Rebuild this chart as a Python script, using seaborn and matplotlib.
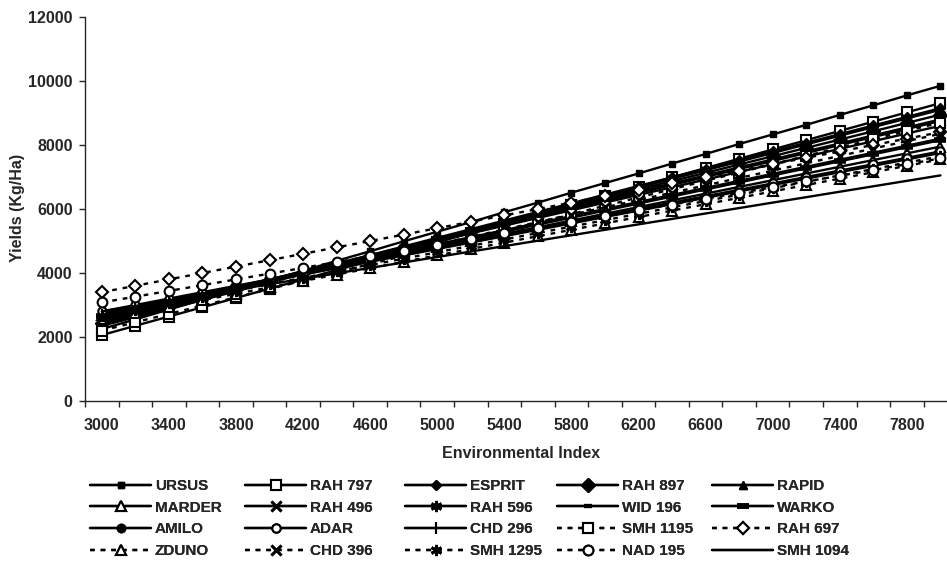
import matplotlib
matplotlib.use("Agg")
import matplotlib.pyplot as plt
import seaborn as sns

# environmental index categories (x axis)
env_index = [3000, 3200, 3400, 3600, 3800, 4000, 4200, 4400, 4600, 4800, 5000, 5200, 5400,
             5600, 5800, 6000, 6200, 6400, 6600, 6800, 7000, 7200, 7400, 7600, 7800, 8000]
x_tick_labels = ["3000", "3400", "3800", "4200", "4600", "5000", "5400",
                 "5800", "6200", "6600", "7000", "7400", "7800"]
y_ticks = [0, 2000, 4000, 6000, 8000, 10000, 12000]

# predicted yields (Kg/Ha)
ursus = [2250, 2550, 2860, 3160, 3470, 3770, 4070, 4380, 4680, 4990, 5290, 5590, 5900,
         6200, 6510, 6810, 7110, 7420, 7720, 8030, 8330, 8630, 8940, 9240, 9550, 9850]
rah797 = [2060, 2350, 2640, 2930, 3220, 3510, 3800, 4090, 4380, 4670, 4960, 5250, 5540,
          5830, 6120, 6410, 6700, 6990, 7280, 7570, 7860, 8150, 8440, 8730, 9020, 9310]
esprit = [2400, 2670, 2940, 3210, 3480, 3750, 4020, 4290, 4560, 4830, 5100, 5370, 5640,
          5910, 6180, 6450, 6720, 6990, 7260, 7530, 7800, 8070, 8340, 8610, 8880, 9150]
rah897 = [2450, 2710, 2970, 3230, 3490, 3750, 4010, 4270, 4530, 4790, 5050, 5310, 5570,
          5830, 6090, 6350, 6610, 6870, 7130, 7390, 7650, 7910, 8170, 8430, 8690, 8950]
rapid = [2750, 2950, 3150, 3350, 3550, 3750, 3950, 4150, 4350, 4550, 4750, 4950, 5150,
         5350, 5550, 5750, 5950, 6150, 6350, 6550, 6750, 6950, 7150, 7350, 7550, 7750]
marder = [2700, 2910, 3120, 3330, 3540, 3750, 3960, 4170, 4380, 4590, 4800, 5010, 5220,
          5430, 5640, 5850, 6060, 6270, 6480, 6690, 6900, 7110, 7320, 7530, 7740, 7950]
rah496 = [2500, 2750, 3000, 3250, 3500, 3750, 4000, 4250, 4500, 4750, 5000, 5250, 5500,
          5750, 6000, 6250, 6500, 6750, 7000, 7250, 7500, 7750, 8000, 8250, 8500, 8750]
rah596 = [2350, 2620, 2890, 3160, 3430, 3700, 3970, 4240, 4510, 4780, 5050, 5320, 5590,
          5860, 6130, 6400, 6670, 6940, 7210, 7480, 7750, 8020, 8290, 8560, 8830, 9100]
wid196 = [2550, 2800, 3050, 3300, 3550, 3800, 4050, 4300, 4550, 4800, 5050, 5300, 5550,
          5800, 6050, 6300, 6550, 6800, 7050, 7300, 7550, 7800, 8050, 8300, 8550, 8800]
warko = [2650, 2870, 3090, 3310, 3530, 3750, 3970, 4190, 4410, 4630, 4850, 5070, 5290,
         5510, 5730, 5950, 6170, 6390, 6610, 6830, 7050, 7270, 7490, 7710, 7930, 8150]
amilo = [2600, 2840, 3080, 3320, 3560, 3800, 4040, 4280, 4520, 4760, 5000, 5240, 5480,
         5720, 5960, 6200, 6440, 6680, 6920, 7160, 7400, 7640, 7880, 8120, 8360, 8600]
adar = [2800, 3000, 3200, 3400, 3600, 3800, 4000, 4200, 4400, 4600, 4800, 5000, 5200,
        5400, 5600, 5800, 6000, 6200, 6400, 6600, 6800, 7000, 7200, 7400, 7600, 7800]
chd296 = [2700, 2920, 3140, 3360, 3580, 3800, 4020, 4240, 4460, 4680, 4900, 5120, 5340,
          5560, 5780, 6000, 6220, 6440, 6660, 6880, 7100, 7320, 7540, 7760, 7980, 8200]
smh1195 = [2200, 2460, 2720, 2980, 3240, 3500, 3760, 4020, 4280, 4540, 4800, 5060, 5320,
           5580, 5840, 6100, 6360, 6620, 6880, 7140, 7400, 7660, 7920, 8180, 8440, 8700]
rah697 = [3400, 3600, 3800, 4000, 4200, 4400, 4600, 4800, 5000, 5200, 5400, 5600, 5800,
          6000, 6200, 6400, 6600, 6800, 7000, 7200, 7400, 7600, 7800, 8000, 8200, 8400]
zduno = [2550, 2750, 2950, 3150, 3350, 3550, 3750, 3950, 4150, 4350, 4550, 4750, 4950,
         5150, 5350, 5550, 5750, 5950, 6150, 6350, 6550, 6750, 6950, 7150, 7350, 7550]
chd396 = [2600, 2830, 3060, 3290, 3520, 3750, 3980, 4210, 4440, 4670, 4900, 5130, 5360,
          5590, 5820, 6050, 6280, 6510, 6740, 6970, 7200, 7430, 7660, 7890, 8120, 8350]
smh1295 = [2650, 2850, 3050, 3250, 3450, 3650, 3850, 4050, 4250, 4450, 4650, 4850, 5050,
           5250, 5450, 5650, 5850, 6050, 6250, 6450, 6650, 6850, 7050, 7250, 7450, 7650]
nad195 = [3080, 3260, 3440, 3620, 3800, 3980, 4160, 4340, 4520, 4700, 4880, 5060, 5240,
          5420, 5600, 5780, 5960, 6140, 6320, 6500, 6680, 6860, 7040, 7220, 7400, 7580]
smh1094 = [2800, 2970, 3140, 3310, 3480, 3650, 3820, 3990, 4160, 4330, 4500, 4670, 4840,
           5010, 5180, 5350, 5520, 5690, 5860, 6030, 6200, 6370, 6540, 6710, 6880, 7050]

names = ["URSUS", "RAH 797", "ESPRIT", "RAH 897", "RAPID",
         "MARDER", "RAH 496", "RAH 596", "WID 196", "WARKO",
         "AMILO", "ADAR", "CHD 296", "SMH 1195", "RAH 697",
         "ZDUNO", "CHD 396", "SMH 1295", "NAD 195", "SMH 1094"]
series = [ursus, rah797, esprit, rah897, rapid,
          marder, rah496, rah596, wid196, warko,
          amilo, adar, chd296, smh1195, rah697,
          zduno, chd396, smh1295, nad195, smh1094]

SOLID = "-"
DASH = (0, (2, 2.5))
ASTER = (6, 2, 0)
# marker, filled, size, edge width, linestyle
styles = {
    "URSUS": ("s", True, 5, 1, SOLID),
    "RAH 797": ("s", False, 7, 1.5, SOLID),
    "ESPRIT": ("D", True, 5, 1, SOLID),
    "RAH 897": ("D", True, 7, 1, SOLID),
    "RAPID": ("^", True, 6, 1, SOLID),
    "MARDER": ("^", False, 7, 1.5, SOLID),
    "RAH 496": ("x", True, 7, 2, SOLID),
    "RAH 596": (ASTER, True, 8, 2, SOLID),
    "WID 196": ("_", True, 6, 3, SOLID),
    "WARKO": ("_", True, 9, 4, SOLID),
    "AMILO": ("o", True, 6, 1, SOLID),
    "ADAR": ("o", False, 6, 1.5, SOLID),
    "CHD 296": ("|", True, 9, 1.5, SOLID),
    "SMH 1195": ("s", False, 7, 1.5, DASH),
    "RAH 697": ("D", False, 6, 1.5, DASH),
    "ZDUNO": ("^", False, 7, 1.5, DASH),
    "CHD 396": ("x", True, 7, 2, DASH),
    "SMH 1295": (ASTER, True, 8, 2, DASH),
    "NAD 195": ("o", False, 7, 1.5, DASH),
    "SMH 1094": (None, True, 0, 1, SOLID),
}

sns.set_style("ticks")
plt.rcParams["font.family"] = ["Liberation Sans", "DejaVu Sans"]
plt.rcParams["font.weight"] = "bold"

fig = plt.figure(figsize=(9.47, 5.69), dpi=100)
ax = fig.add_axes([85 / 947, 1 - 401 / 569, 862 / 947, 384 / 569])

handles = {}
for name, vals in zip(names, series):
    mk, filled, ms, mew, ls = styles[name]
    sns.lineplot(x=env_index, y=vals, ax=ax, color="black", linewidth=1.7,
                 linestyle=ls, marker=mk, markersize=ms, markeredgewidth=mew,
                 markerfacecolor="black" if filled else "white",
                 markeredgecolor="black", label=name)
    handles[name] = ax.get_lines()[-1]
ax.get_legend().remove()

sns.despine(ax=ax)
ax.spines["left"].set_linewidth(1)
ax.spines["bottom"].set_linewidth(1)

ax.set_xlim(2900, 8039)
ax.set_ylim(0, 12000)
ax.set_yticks(y_ticks)
ax.set_yticklabels([str(v) for v in y_ticks], fontsize=11.5, fontweight="bold")
ax.tick_params(axis="y", length=4, width=1, pad=5)

# tick marks between categories, labels on every other category
ax.set_xticks(list(range(2900, 8000, 200)))
ax.set_xticklabels([])
ax.tick_params(axis="x", which="major", length=4, width=1)
ax.set_xticks(list(range(3000, 7801, 400)), minor=True)
ax.set_xticklabels(x_tick_labels, minor=True, fontsize=11.5, fontweight="bold")
ax.tick_params(axis="x", which="minor", length=0, pad=12)

ax.set_xlabel("Environmental Index", fontsize=11.5, fontweight="bold")
ax.xaxis.set_label_coords((521 - 85) / 862, -(446 - 401) / 384)
ax.set_ylabel("Yields (Kg/Ha)", fontsize=11.5, fontweight="bold")
ax.yaxis.set_label_coords(-(85 - 25) / 862, (401 - 208) / 384)

# legend: 5 equal-width columns like the original
col_x = [90, 245, 405, 557, 712]
for c in range(5):
    col_names = names[c::5]
    leg = fig.legend([handles[n] for n in col_names], col_names,
                     loc="upper left", bbox_to_anchor=(col_x[c] / 947, 1 - 479 / 569),
                     frameon=False, borderpad=0, borderaxespad=0,
                     handlelength=4.0, handletextpad=0.25, labelspacing=0.5,
                     prop={"size": 11, "weight": "bold"})
    fig.add_artist(leg)

fig.savefig("out.png", dpi=100)
